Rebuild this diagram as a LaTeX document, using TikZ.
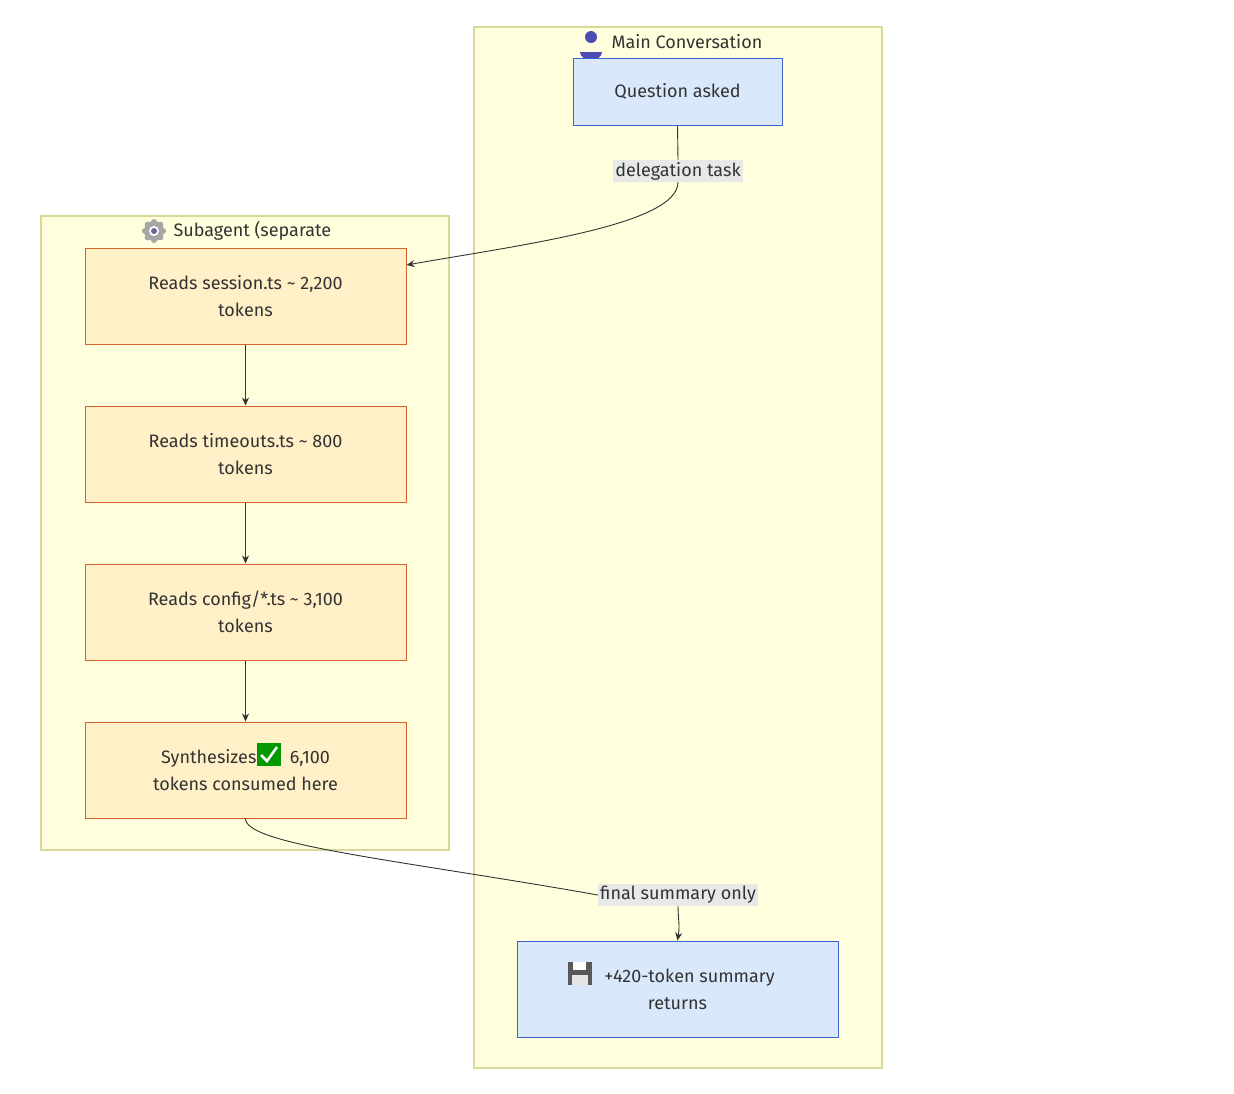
\documentclass[tikz,border=0pt]{standalone}
\usepackage{fontspec}
\setmainfont{Fira Sans}
\usetikzlibrary{arrows.meta}
\definecolor{clfill}{HTML}{FFFFDE}
\definecolor{clline}{HTML}{D8D89A}
\definecolor{bfill}{HTML}{DAE8FC}
\definecolor{bline}{HTML}{4060D0}
\definecolor{ofill}{HTML}{FFF0C8}
\definecolor{oline}{HTML}{D5622A}
\definecolor{lbl}{HTML}{E8E8E8}
\definecolor{txt}{HTML}{333333}
\begin{document}
\begin{tikzpicture}[x=1pt,y=-1pt,
  every node/.style={font=\fontsize{18}{27}\selectfont, text=txt},
  cluster/.style={draw=clline, fill=clfill, line width=1.2pt},
  bbox/.style={draw=bline, fill=bfill, line width=1pt, align=center},
  obox/.style={draw=oline, fill=ofill, line width=1pt, align=center},
  lab/.style={fill=lbl, inner sep=2pt},
  edge/.style={draw=txt, line width=0.9pt, -{Stealth[length=8pt,width=7pt]}}]
\useasboundingbox (0,0) rectangle (1234,1093);
% clusters
\draw[cluster] (474,27) rectangle (882,1068);
\draw[cluster] (41,216) rectangle (449,850);
\node[anchor=west] (mt) at (608,42) {Main Conversation};
% person icon
\fill[gray!60!blue] (591,37) circle (6);
\fill[gray!60!blue] (580,52) arc (180:0:11 and 8) -- cycle;
\node[anchor=west] (st) at (170,231) {Subagent (separate};
% gear icon
\fill[gray!70] (154,231) circle (10);
\foreach \a in {0,45,...,315} \fill[gray!70] (154,231) ++(\a:9) circle (3);
\fill[white] (154,231) circle (5);
\fill[gray!80!blue] (154,231) circle (3);
% nodes
\node[bbox, minimum width=209, minimum height=67] (q) at (677.5,91.5) {Question asked};
\node[obox, minimum width=321, minimum height=96] (r1) at (245.5,296) {Reads session.ts \textasciitilde{} 2,200\\tokens};
\node[obox, minimum width=321, minimum height=96] (r2) at (245.5,454) {Reads timeouts.ts \textasciitilde{} 800\\tokens};
\node[obox, minimum width=321, minimum height=96] (r3) at (245.5,612) {Reads config/*.ts \textasciitilde{} 3,100\\tokens};
\node[obox, minimum width=321, minimum height=96] (r4) at (245.5,770) {Synthesizes \hspace{24pt} 6,100\\tokens consumed here};
\node[bbox, minimum width=321, minimum height=96] (out) at (677.5,989) {\hspace{24pt}+420-token summary\\returns};
% check icon
\fill[green!60!black] (257,743) rectangle (281,766);
\draw[white, line width=2.5pt] (261,755) -- (267,761) -- (277,747);
% floppy icon
\fill[gray!70!black] (568,962) rectangle (592,985);
\fill[white] (573,962) rectangle (586,970);
\fill[gray!20] (572,975) rectangle (588,985);
% edges
\node[lab] (l1) at (678,171) {delegation task};
\node[lab] (l2) at (678,895) {final summary only};
\draw[draw=txt, line width=0.9pt] (q.south) -- (l1.north);
\draw[edge] (l1.south) .. controls (678,225) and (520,245) .. (r1.east |- 0,265);
\draw[edge] (r1) -- (r2);
\draw[edge] (r2) -- (r3);
\draw[edge] (r3) -- (r4);
\draw[draw=txt, line width=0.9pt] (r4.south) .. controls (245,845) and (400,860) .. (l2.west);
\draw[edge] (l2.south) .. controls (678,918) and (680,925) .. (out.north);
\end{tikzpicture}
\end{document}
